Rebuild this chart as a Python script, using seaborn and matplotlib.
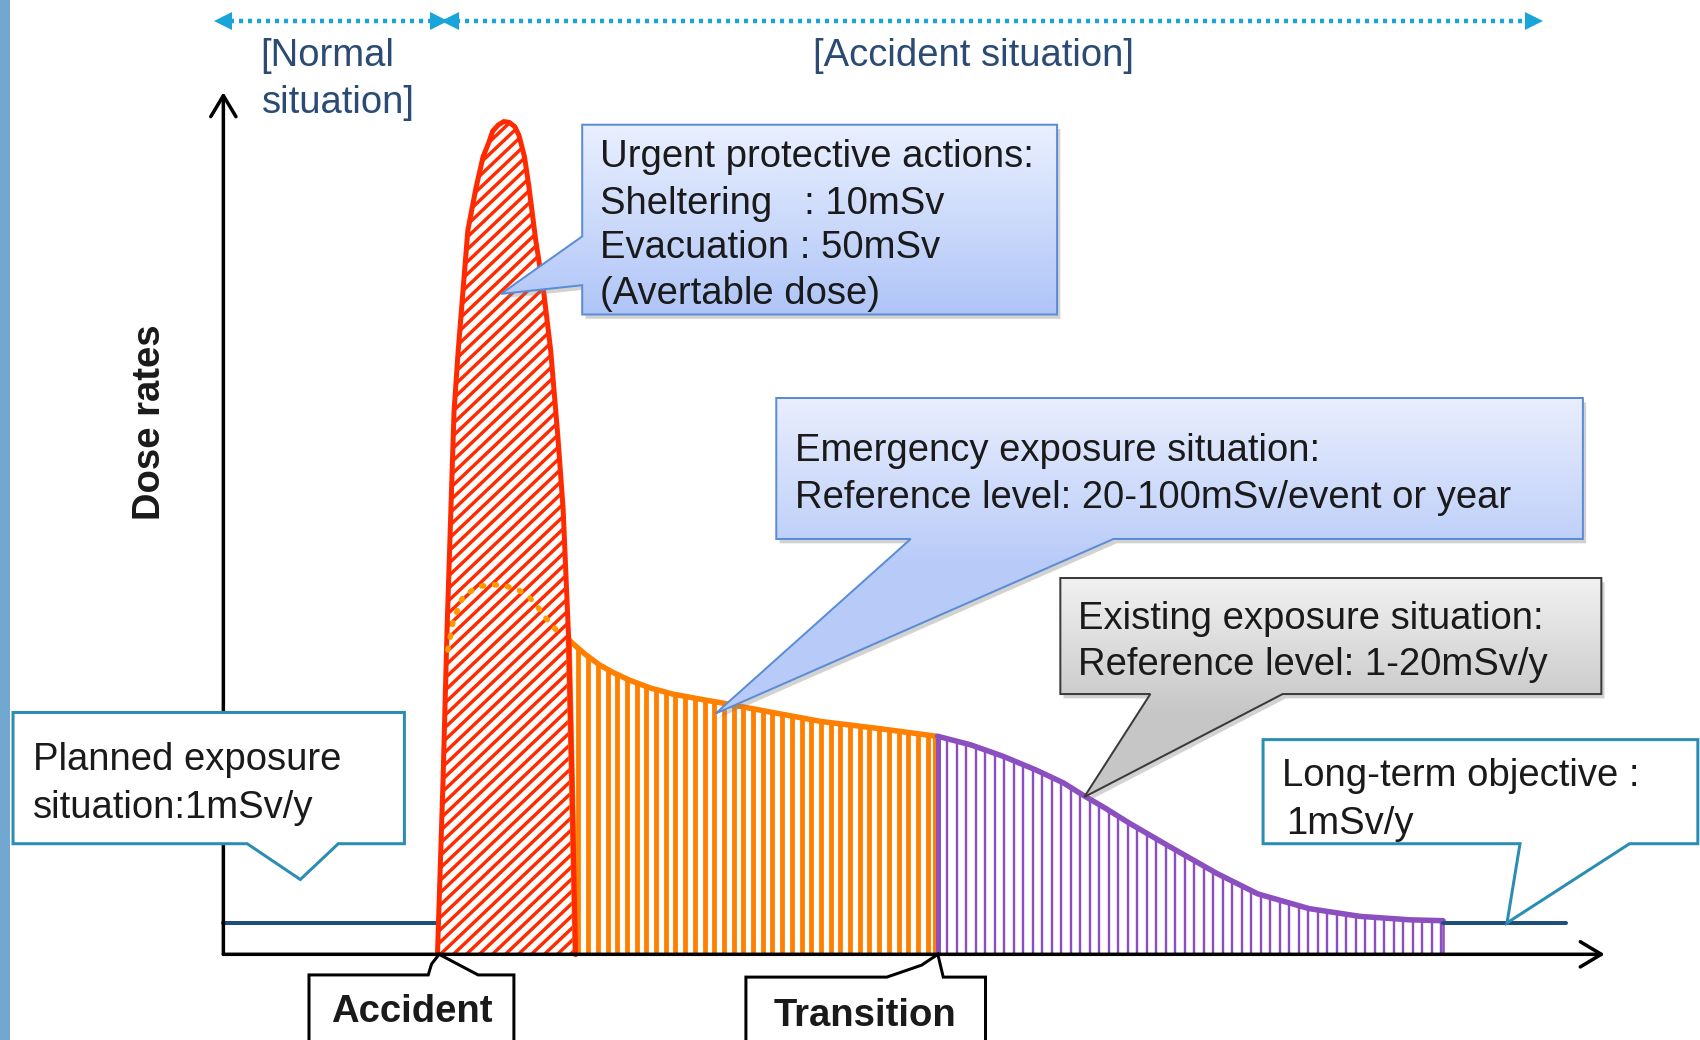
import numpy as np
import matplotlib
matplotlib.use("Agg")
import matplotlib.pyplot as plt
import matplotlib.colors as mcolors
from matplotlib.patches import Polygon, Rectangle
from matplotlib.collections import LineCollection
import seaborn as sns

# Dose-rate profile.
# time: 0 = origin of the axes, 100 = tip of the time arrow
# dose: 0 = time axis, 100 = tip of the dose arrow
red_t = [15.5, 15.9, 16.2, 16.5, 16.7, 17.0, 17.4, 17.7, 18.3, 18.8,
         19.2, 19.5, 19.9, 20.3, 20.7, 21.1, 21.4, 21.8, 22.1, 22.6,
         23.2, 23.7, 24.2, 24.6, 24.8, 25.0, 25.2, 25.5]
red_dose = [0, 20, 38, 53, 63, 70, 78, 84, 89, 92.5,
            94.1, 95.5, 96.2, 96.6, 96.5, 96.0, 95.0, 92.5, 89.3, 83,
            76.7, 70, 60.4, 51.6, 44, 36.5, 22.6, 0]

orange_t = [25.0, 25.4, 26.2, 27.2, 28.2, 29.4, 30.9, 32.5, 34.5, 36.3,
            39.6, 43.3, 47.4, 51.6]
orange_dose = [36.5, 35.9, 34.8, 33.6, 32.7, 31.8, 30.9, 30.2, 29.6, 29.1,
               28.1, 27.0, 26.2, 25.3]

purple_t = [51.7, 54.1, 56.4, 58.8, 60.8, 62.3, 63.9, 65.6, 68.5, 71.9,
            74.9, 78.6, 82.3, 85.9, 88.3]
purple_dose = [25.3, 24.3, 23.0, 21.4, 19.9, 18.4, 16.9, 15.2, 12.5, 9.4,
               7.0, 5.3, 4.4, 4.0, 3.9]

# dotted arc inside the red peak
arc_t = [16.25, 16.64, 17.35, 18.37, 19.3, 20.25, 21.35, 22.21, 22.8, 23.4, 24.1]
arc_dose = [35.3, 38.7, 41.5, 42.6, 42.9, 42.8, 42.3, 41.3, 40.2, 38.9, 37.6]

# 1 mSv/y level before the accident and as long-term objective
planned_t = [0, 15.5]
longterm_t = [88.3, 97.2]
level_dose = 3.6

RED = "#FF2A00"
ORANGE = "#FF7F00"
PURPLE = "#8C4FBF"
NAVY = "#1F4E79"
TEAL = "#2B8DB3"
CYAN = "#19A4DA"
LABEL = "#2B4A74"

sns.set_theme(style="white")
plt.rcParams["font.family"] = ["Liberation Sans", "DejaVu Sans"]

DPI = 120
PT = 72 / DPI          # points per output pixel
FS = 38.3 * PT

fig = plt.figure(figsize=(1700 / DPI, 1040 / DPI), dpi=DPI, facecolor="white")

# data axes, covering the whole figure
ax = fig.add_axes([0, 0, 1, 1])
ax.set_xlim(-16.17, 106.9)
ax.set_ylim(-9.94, 110.7)
ax.axis("off")

PX_T = 13.81   # output pixels per time unit
PX_D = 8.62    # output pixels per dose unit


def striped(x, y, color, width, step, slope=None):
    """Fill a region with parallel stripes clipped to it (step in pixels)."""
    region = ax.fill(x, y, facecolor="none", lw=0, zorder=2)[0]
    dt = step / PX_T
    if slope is None:
        starts = np.arange(min(x) - dt, max(x) + dt, dt)
        segs = [[(s, 0), (s, 110)] for s in starts]
    else:
        k = slope * PX_T / PX_D            # screen slope -> data slope
        starts = np.arange(min(x) - 110 / k, max(x) + dt, dt)
        segs = [[(s, 0), (s + 110 / k, 110)] for s in starts]
    lc = LineCollection(segs, colors=color, linewidths=width * PT, zorder=2)
    ax.add_collection(lc, autolim=False)
    lc.set_clip_path(region)


# red peak
striped(red_t, red_dose, RED, 3.4, 13, slope=0.95)

# orange part: its left side follows the tail of the red peak
tail = [(t, d) for t, d in zip(red_t, red_dose) if t > orange_t[0]]
tail_t = [t for t, _ in tail]
tail_d = [d for _, d in tail]
striped(orange_t + [orange_t[-1]] + tail_t[::-1],
        orange_dose + [0] + tail_d[::-1], ORANGE, 4.8, 9.7)

# purple part
striped(purple_t + [purple_t[-1], purple_t[0]], purple_dose + [0, 0], PURPLE, 2.4, 9.5)

# edges of the filled areas
ax.plot([orange_t[0]] + tail_t, [orange_dose[0]] + tail_d, color=ORANGE, lw=6 * PT, zorder=3)
ax.vlines(orange_t[-1], 0, orange_dose[-1], color=ORANGE, lw=6 * PT, zorder=3)
ax.vlines(purple_t[0], 0, purple_dose[0], color=PURPLE, lw=5 * PT, zorder=3)
ax.vlines(purple_t[-1], 0, purple_dose[-1], color=PURPLE, lw=2.5 * PT, zorder=3)

sns.lineplot(x=orange_t, y=orange_dose, ax=ax, color=ORANGE, lw=5.5 * PT,
             estimator=None, sort=False, zorder=4)
sns.lineplot(x=purple_t, y=purple_dose, ax=ax, color=PURPLE, lw=5.5 * PT,
             estimator=None, sort=False, zorder=4)
sns.lineplot(x=red_t, y=red_dose, ax=ax, color=RED, lw=5 * PT,
             estimator=None, sort=False, zorder=5)
ax.plot(arc_t, arc_dose, color="#FF9900", lw=5.5 * PT, ls=(0, (0.35, 2.0)),
        dash_capstyle="round", zorder=5)

sns.lineplot(x=planned_t, y=[level_dose] * 2, ax=ax, color=NAVY, lw=4 * PT, zorder=4)
sns.lineplot(x=longterm_t, y=[level_dose] * 2, ax=ax, color=NAVY, lw=4 * PT, zorder=4)

# axes with open arrow heads
arrow = dict(arrowstyle="->,head_length=0.5,head_width=0.3", lw=3.5 * PT, color="black",
             shrinkA=0, shrinkB=0, mutation_scale=42 * PT)
ax.annotate("", xy=(100, 0), xytext=(0, 0), arrowprops=arrow, zorder=6)
ax.annotate("", xy=(0, 100), xytext=(0, 0), arrowprops=arrow, zorder=6)

# overlay axes in picture units for the callouts and labels
deco = fig.add_axes([0, 0, 1, 1], zorder=5)
deco.axis("off")


def callout(verts, face="white", edge="black", lw=2.0, grad=None, shadow=False):
    verts = np.array(verts, float)
    if shadow:
        deco.add_patch(Polygon(verts + [3, 4], closed=True, facecolor="0.5",
                               alpha=0.35, lw=0, zorder=1))
    poly = Polygon(verts, closed=True, facecolor=face, edgecolor=edge,
                   lw=lw * PT, zorder=3, joinstyle="miter")
    deco.add_patch(poly)
    if grad is not None:
        top, bottom, y0, y1 = grad
        x_lo, y_lo = verts.min(0)
        x_hi, y_hi = verts.max(0)
        ys = np.linspace(y_lo, y_hi, 300)
        f = np.clip((ys - y0) / (y1 - y0), 0, 1)[:, None, None]
        c0 = np.array(mcolors.to_rgb(top))
        c1 = np.array(mcolors.to_rgb(bottom))
        img = c0 + (c1 - c0) * f
        im = deco.imshow(img, extent=(x_lo, x_hi, y_hi, y_lo), origin="upper",
                         aspect="auto", zorder=2, interpolation="bilinear")
        im.set_clip_path(poly)
        poly.set_facecolor("none")


def label(x, y, s, **kw):
    kw.setdefault("color", "#1A1A1A")
    kw.setdefault("ha", "left")
    deco.text(x, y + 3, s, fontsize=FS, va="center", zorder=4, **kw)


deco.add_patch(Rectangle((0, 0), 9.5, 959, color="#72A7CF", lw=0))

# phase arrows at the top
for x0, x1 in [(206, 405), (415, 1415)]:
    deco.plot([x0 + 6, x1 - 6], [19, 19], color=CYAN, lw=4.5 * PT, ls=(0, (0.9, 1.1)))
    deco.plot([x0], [19], marker="<", color=CYAN, ms=18 * PT, mew=0)
    deco.plot([x1], [19], marker=">", color=CYAN, ms=18 * PT, mew=0)
label(240, 49, "[Normal", color=LABEL)
label(242, 92, "situation]", color=LABEL)
label(898, 49, "[Accident situation]", color=LABEL, ha="center")

label(138, 386, "Dose rates", rotation=90, fontweight="bold", ha="center")

blue = ("#EAF0FF", "#AFC5F7")
callout([(537, 115), (975, 115), (975, 290), (537, 290), (537, 263), (462, 271), (537, 218)],
        edge="#5B8DD6", lw=2, grad=blue + (115, 290), shadow=True)
label(553, 142, "Urgent protective actions:")
label(553, 185, "Sheltering   : 10mSv")
label(553, 226, "Evacuation : 50mSv")
label(553, 268, "(Avertable dose)")

callout([(716, 367), (1460, 367), (1460, 497), (1027, 497), (660, 658), (840, 497), (716, 497)],
        edge="#5B8DD6", lw=2, grad=("#E9EEFE", "#B8CBF8", 367, 520), shadow=True)
label(733, 413, "Emergency exposure situation:")
label(733, 456, "Reference level: 20-100mSv/event or year")

callout([(978, 533), (1477, 533), (1477, 640), (1183, 640), (1000, 735), (1061, 640), (978, 640)],
        edge="#3A3A3A", lw=2, grad=("#F2F2F2", "#C6C6C6", 533, 660), shadow=True)
label(994, 568, "Existing exposure situation:")
label(994, 610, "Reference level: 1-20mSv/y")

callout([(1165, 682), (1566, 682), (1566, 778), (1503, 778), (1390, 851), (1402, 778), (1165, 778)],
        edge=TEAL, lw=3)
label(1182, 713, "Long-term objective :")
label(1186, 757, "1mSv/y")

callout([(12, 657), (373, 657), (373, 778), (312, 778), (277, 811), (228, 778), (12, 778)],
        edge=TEAL, lw=3)
label(30, 698, "Planned exposure")
label(30, 742, "situation:1mSv/y")

callout([(285, 899), (395, 899), (398, 889), (405, 880), (441, 899), (474, 899), (474, 990), (285, 990)],
        lw=3)
label(380, 930, "Accident", fontweight="bold", ha="center")

callout([(688, 901), (818, 901), (850, 890), (865, 880), (870, 901), (909, 901), (909, 990), (688, 990)],
        lw=3)
label(798, 934, "Transition", fontweight="bold", ha="center")

deco.set_xlim(0, 1568)
deco.set_ylim(959, 0)

fig.savefig("out.png", dpi=DPI, facecolor="white")
